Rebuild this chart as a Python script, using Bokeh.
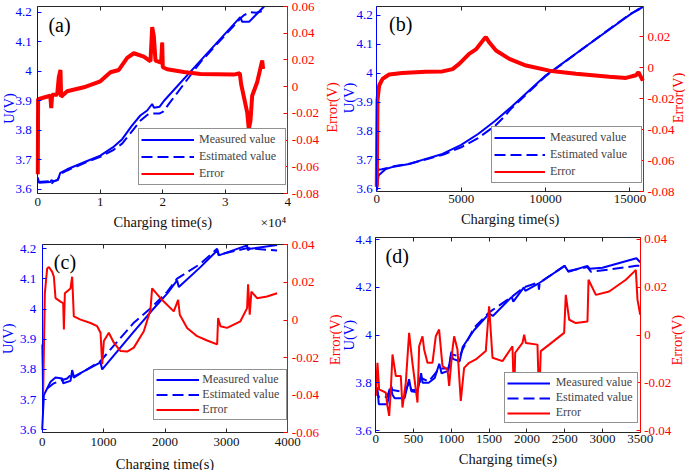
import math

from bokeh.plotting import figure
from bokeh.models import Range1d, LinearAxis, FixedTicker, Label, Legend, LegendItem
from bokeh.layouts import row, column
from bokeh.embed import file_html
from bokeh.resources import INLINE

FONT = "Liberation Serif"
BLUE = "#0000ff"
RED = "#ff0000"
DARK = "#262626"

# ---- (a)  time in units of 1e4 s ----
a_t_meas = [0.0, 0.02, 0.2, 0.22, 0.25, 0.32, 0.36, 0.47, 0.8, 1.0, 1.2, 1.35, 1.5, 1.64, 1.75,
            1.83, 1.86, 1.95, 2.02, 2.6, 3.24, 3.27, 3.38, 3.62]
a_u_meas = [3.64, 3.622, 3.625, 3.632, 3.626, 3.632, 3.656, 3.668, 3.697, 3.714, 3.742, 3.77, 3.814,
            3.85, 3.867, 3.889, 3.876, 3.88, 3.9, 4.035, 4.183, 4.167, 4.167, 4.219]
a_t_est = [0.0, 0.2, 0.22, 0.25, 0.32, 0.36, 0.47, 0.8, 1.0, 1.2, 1.35, 1.5, 1.64, 1.75, 1.8, 1.95,
           2.0, 2.1, 2.6, 3.24, 3.3, 3.4, 3.5, 3.62]
a_u_est = [3.625, 3.628, 3.618, 3.628, 3.632, 3.652, 3.664, 3.694, 3.71, 3.732, 3.755, 3.795, 3.832,
           3.852, 3.857, 3.857, 3.862, 3.89, 4.03, 4.178, 4.19, 4.2, 4.198, 4.205]
a_t_err = [0.0, 0.005, 0.07, 0.2, 0.215, 0.23, 0.31, 0.336, 0.363, 0.373, 0.47, 0.736, 1.0, 1.163,
           1.296, 1.43, 1.536, 1.696, 1.803, 1.83, 1.856, 1.883, 1.973, 1.99, 2.0, 2.07, 2.336, 2.6,
           3.136, 3.232, 3.253, 3.35, 3.376, 3.403, 3.43, 3.51, 3.59, 3.605]
a_err = [-0.0655, -0.0093, -0.0085, -0.0068, -0.016, -0.006, -0.006, 0.007, 0.0125, -0.0075, -0.0035,
         -0.0005, 0.004, 0.0108, 0.0125, 0.0215, 0.025, 0.0225, 0.019, 0.0445, 0.038, 0.0195, 0.018,
         0.033, 0.0145, 0.013, 0.011, 0.0095, 0.009, 0.01, 0.002, -0.0193, -0.0318, -0.0255, -0.0068,
         0.0033, 0.0195, 0.0133]

# ---- (b) ----
b_t_meas = [0, 20, 100, 530, 1000, 1920, 2900, 3890, 5000, 6000, 7000, 8000, 10000, 12500, 15000,
            15500, 15800]
b_u_meas = [3.595, 3.606, 3.646, 3.669, 3.677, 3.686, 3.704, 3.721, 3.752, 3.79, 3.835, 3.885, 3.992,
            4.098, 4.203, 4.222, 4.23]
b_t_est = [0, 300, 1000, 2000, 3000, 4000, 5000, 6000, 7000, 7500, 8000, 10000, 12500, 15000, 15800]
b_u_est = [3.665, 3.668, 3.678, 3.688, 3.703, 3.72, 3.744, 3.776, 3.818, 3.847, 3.88, 3.99, 4.098,
           4.205, 4.228]
b_t_err = [0, 40, 140, 340, 730, 1500, 2900, 3890, 4490, 4880, 5470, 5870, 6360, 6460, 6660, 7060,
           7850, 8840, 10220, 11800, 13770, 14760, 15360, 15500, 15760]
b_err = [-0.077, -0.021, -0.0116, -0.0073, -0.0045, -0.0035, -0.0027, -0.0025, -0.001, 0.0024, 0.0088,
         0.0117, 0.0185, 0.0196, 0.0163, 0.011, 0.0056, 0.0013, -0.002, -0.004, -0.006, -0.0067,
         -0.005, -0.003, -0.0084]

# ---- (c) ----
c_t_meas = [0, 27, 136, 217, 326, 342, 461, 488, 515, 950, 977, 1492, 1790, 2035, 2197, 2225, 2577,
            2849, 2876, 3337, 3348, 3391, 3825]
c_u_meas = [3.6, 3.715, 3.759, 3.773, 3.77, 3.754, 3.762, 3.798, 3.776, 3.823, 3.80, 3.925, 3.996,
            4.051, 4.095, 4.073, 4.139, 4.194, 4.178, 4.211, 4.195, 4.2, 4.212]
c_t_est = [81, 190, 326, 407, 488, 515, 950, 1492, 1790, 2035, 2197, 2577, 2849, 2876, 3337, 3825]
c_u_est = [3.737, 3.754, 3.765, 3.77, 3.787, 3.773, 3.828, 3.955, 4.007, 4.057, 4.101, 4.15, 4.2,
           4.18, 4.202, 4.194]
c_t_err = [0, 16, 43, 81, 109, 163, 190, 217, 298, 342, 353, 369, 461, 488, 515, 624, 787, 895, 950,
           977, 1004, 1085, 1167, 1275, 1384, 1492, 1655, 1763, 1790, 1926, 2143, 2214, 2241, 2360,
           2523, 2686, 2849, 2865, 2903, 3011, 3228, 3337, 3353, 3380, 3407, 3500, 3662, 3825]
c_err = [-0.013, -0.0393, 0.0142, 0.0274, 0.0282, 0.0256, 0.023, 0.0116, 0.0098, 0.0089, -0.0051,
         0.0142, 0.0168, 0.023, 0.0019, 0.0002, -0.0016, -0.0033, -0.0068, -0.0235, -0.0112, -0.0068,
         -0.0121, -0.0165, -0.0168, -0.0147, -0.006, 0.0054, 0.0168, 0.0116, 0.0046, 0.0107, 0.0028,
         -0.0042, -0.0086, -0.0109, -0.013, 0.001, -0.0033, -0.0042, -0.0007, 0.0063, 0.019, 0.0028,
         0.0151, 0.0116, 0.0125, 0.0142]

# ---- (d) ----
d_t_meas = [0, 20, 40, 150, 200, 220, 250, 380, 440, 470, 550, 600, 620, 700, 780, 840, 870, 960,
            1000, 1020, 1110, 1150, 1300, 1500, 1550, 1800, 1820, 1960, 1980, 2150, 2500, 2550, 2800,
            2830, 3000, 3450, 3500]
d_u_meas = [3.77, 3.78, 3.71, 3.71, 3.78, 3.75, 3.735, 3.735, 3.815, 3.765, 3.76, 3.84, 3.80, 3.80,
            3.82, 3.88, 3.84, 3.85, 3.93, 3.90, 3.89, 3.95, 4.02, 4.09, 4.08, 4.16, 4.14, 4.2, 4.185,
            4.215, 4.29, 4.265, 4.29, 4.278, 4.282, 4.322, 4.305]
d_t_est = [0, 40, 150, 200, 220, 380, 440, 470, 550, 600, 700, 840, 960, 1000, 1110, 1150, 1300,
           1500, 1800, 1960, 2150, 2160, 2170, 2500, 2550, 2800, 2850, 3450, 3500]
d_u_est = [3.78, 3.74, 3.74, 3.79, 3.77, 3.76, 3.80, 3.77, 3.77, 3.82, 3.805, 3.86, 3.86, 3.92, 3.91,
           3.94, 4.03, 4.095, 4.16, 4.2, 4.22, 4.19, 4.22, 4.29, 4.268, 4.285, 4.265, 4.29, 4.29]
d_t_err = [0, 22, 44, 132, 154, 177, 199, 221, 265, 331, 353, 397, 441, 485, 552, 574, 618, 640, 684,
           750, 794, 838, 883, 949, 971, 1015, 1037, 1081, 1125, 1169, 1236, 1324, 1456, 1500, 1545,
           1677, 1809, 1831, 1845, 1942, 1964, 1986, 2140, 2162, 2184, 2295, 2493, 2515, 2560, 2648,
           2802, 2816, 2913, 3089, 3310, 3420, 3442, 3464, 3500]
d_err = [-0.0254, -0.0116, -0.0227, -0.0241, -0.0296, -0.0338, -0.0227, -0.0081, -0.0171, -0.0171,
         -0.0303, -0.0199, 0.0009, -0.0116, -0.0282, -0.0046, -0.0005, -0.006, -0.0116, -0.0116,
         -0.0005, 0.0023, -0.013, -0.0144, -0.0213, -0.006, -0.0005, -0.006, -0.0275, -0.0137,
         -0.0116, -0.0102, -0.0067, 0.012, -0.0095, -0.0109, -0.0047, -0.028, -0.0074, -0.0033,
         0.0002, -0.0033, -0.004, -0.028, -0.0067, -0.004, 0.0009, 0.0168, 0.0064, 0.005, 0.0057,
         0.0231, 0.0168, 0.0182, 0.0231, 0.0265, 0.0272, 0.0148, 0.0085]

# ---- ticks ----
a_x_ticks = [0, 1, 2, 3, 4]
a_x_labels = ["0", "1", "2", "3", "4"]
b_x_ticks = [0, 5000, 10000, 15000]
b_x_labels = ["0", "5000", "10000", "15000"]
c_x_ticks = [0, 1000, 2000, 3000, 4000]
c_x_labels = ["0", "1000", "2000", "3000", "4000"]
d_x_ticks = [0, 500, 1000, 1500, 2000, 2500, 3000, 3500]
d_x_labels = ["0", "500", "1000", "1500", "2000", "2500", "3000", "3500"]
u_ticks = [3.6, 3.7, 3.8, 3.9, 4.0, 4.1, 4.2]
u_labels = ["3.6", "3.7", "3.8", "3.9", "4", "4.1", "4.2"]
d_u_ticks = [3.6, 3.8, 4.0, 4.2, 4.4]
d_u_labels = ["3.6", "3.8", "4", "4.2", "4.4"]
a_e_ticks = [-0.08, -0.06, -0.04, -0.02, 0, 0.02, 0.04, 0.06]
a_e_labels = ["-0.08", "-0.06", "-0.04", "-0.02", "0", "0.02", "0.04", "0.06"]
b_e_ticks = [-0.08, -0.06, -0.04, -0.02, 0, 0.02]
b_e_labels = ["-0.08", "-0.06", "-0.04", "-0.02", "0", "0.02"]
c_e_ticks = [-0.06, -0.04, -0.02, 0, 0.02, 0.04]
c_e_labels = ["-0.06", "-0.04", "-0.02", "0", "0.02", "0.04"]
d_e_ticks = [-0.04, -0.02, 0, 0.02, 0.04]
d_e_labels = ["-0.04", "-0.02", "0", "0.02", "0.04"]

legend_labels = ["Measured value", "Estimated value", "Error"]
x_title = "Charging time(s)"
u_title = "U(V)"
e_title = "Error(V)"
x_scale_note = "×10⁴"


def widen(lo, hi, before, after, span):
    # range whose [lo, hi] part falls on the axes box, leaving margins in px
    k = (hi - lo) / span
    return Range1d(lo - before * k, hi + after * k)


def style_axis(ax, color, ticks, labels, standoff, text_color=None):
    ax.ticker = FixedTicker(ticks=ticks)
    ax.major_label_overrides = dict(zip(ticks, labels))
    ax.axis_line_color = color
    ax.major_tick_line_color = color
    ax.major_tick_in = 4
    ax.major_tick_out = 0
    ax.minor_tick_line_color = None
    ax.major_label_text_color = text_color or color
    ax.major_label_text_font = FONT
    ax.major_label_text_font_size = "13px"
    ax.major_label_standoff = standoff


def title_label(p, text, x, y, color, angle=0.0, align="center", size="14.5px"):
    p.add_layout(Label(x=x, y=y, x_units="screen", y_units="screen", text=text, angle=angle,
                       text_font=FONT, text_font_size=size, text_color=color,
                       text_align=align, text_baseline="middle"))


def panel(tag, tm, um, te, ue, terr, err, xr, ur, er, xt, xl, ut, ul, et, el,
          w, h, box, tag_xy, titles, standoffs, leg):
    left, right, top, bottom = box
    fw = w - left - right
    fh = h - top - bottom
    p = figure(width=w, height=h,
               x_range=widen(xr[0], xr[1], left, right, fw),
               y_range=widen(ur[0], ur[1], bottom, top, fh),
               output_backend="svg", toolbar_location=None,
               min_border_left=0, min_border_right=0, min_border_top=0, min_border_bottom=0)
    p.extra_y_ranges = {"err": widen(er[0], er[1], bottom, top, fh)}
    p.background_fill_color = "white"
    p.border_fill_color = "white"
    p.outline_line_color = None
    p.xgrid.visible = False
    p.ygrid.visible = False

    bx = p.xaxis[0]
    style_axis(bx, DARK, xt, xl, standoffs[0], text_color="#111111")
    bx.fixed_location = ur[0]
    bx.bounds = xr

    ly = p.yaxis[0]
    style_axis(ly, BLUE, ut, ul, standoffs[1])
    ly.fixed_location = xr[0]
    ly.bounds = ur

    ry = LinearAxis(y_range_name="err", fixed_location=xr[1], bounds=er)
    style_axis(ry, RED, et, el, 4)
    p.add_layout(ry, "right")

    tx = LinearAxis(fixed_location=ur[1], bounds=xr)
    style_axis(tx, DARK, xt, [""] * len(xt), 0)
    p.add_layout(tx, "above")

    r_m = p.line(tm, um, color=BLUE, line_width=2)
    r_e = p.line(te, ue, color=BLUE, line_width=2, line_dash="11 5")
    if leg["thick"]:
        p.line(terr, err, color=RED, line_width=4, y_range_name="err")
    r_err = p.line(terr, err, color=RED, line_width=2, y_range_name="err")

    legend = Legend(items=[LegendItem(label=legend_labels[0], renderers=[r_m]),
                           LegendItem(label=legend_labels[1], renderers=[r_e]),
                           LegendItem(label=legend_labels[2], renderers=[r_err])],
                    location=(left + leg["loc"][0], bottom + leg["loc"][1]),
                    margin=0, padding=leg["pad"], spacing=0,
                    glyph_width=leg["gw"], glyph_height=leg["lh"], label_height=leg["lh"],
                    label_width=leg["lw"], label_standoff=leg["ls"],
                    label_text_font=FONT, label_text_font_size="12px",
                    border_line_color=DARK, border_line_width=1,
                    background_fill_color="white", background_fill_alpha=1.0)
    p.add_layout(legend)

    p.add_layout(Label(x=tag_xy[0], y=tag_xy[1], text=tag, text_font=FONT,
                       text_font_size="20px", text_baseline="middle", text_color="black"))

    u_dx, u_y, e_dx, e_y, x_dy = titles
    title_label(p, u_title, left - u_dx, bottom + u_y, BLUE, angle=math.pi / 2)
    title_label(p, e_title, w - right + e_dx, bottom + e_y, RED, angle=math.pi / 2)
    title_label(p, x_title, left + fw / 2, bottom - x_dy, "#111111")
    return p


pa = panel("(a)", a_t_meas, a_u_meas, a_t_est, a_u_est, a_t_err, a_err,
           (0, 4), (3.586, 4.219), (-0.08, 0.06), a_x_ticks, a_x_labels, u_ticks, u_labels,
           a_e_ticks, a_e_labels, 342, 235, (37.3, 54.7, 6, 42), (0.17, 4.158),
           (29.3, 85, 43.7, 86, 28), (4, 6),
           dict(loc=(100.7, 8), pad=2, gw=53, lh=17, lw=84, ls=5, thick=True))
title_label(pa, x_scale_note, 260, 13, "#111111", align="left", size="13.5px")

pb = panel("(b)", b_t_meas, b_u_meas, b_t_est, b_u_est, b_t_err, b_err,
           (0, 15800), (3.591, 4.231), (-0.08, 0.0394), b_x_ticks, b_x_labels, u_ticks, u_labels,
           b_e_ticks, b_e_labels, 343, 229, (34.3, 42, 6, 38), (730, 4.169),
           (28.3, 93.5, 34.5, 93.5, 27), (3, 4),
           dict(loc=(114.7, 8), pad=2, gw=51, lh=17, lw=89, ls=5, thick=True))

pc = panel("(c)", c_t_meas, c_u_meas, c_t_est, c_u_est, c_t_err, c_err,
           (0, 4000), (3.59, 4.213), (-0.06, 0.04), c_x_ticks, c_x_labels, u_ticks, u_labels,
           c_e_ticks, c_e_labels, 342, 235, (41.7, 54.7, 9.3, 37.7), (190, 4.156),
           (34.2, 94, 46.7, 93, 30.7), (5, 6),
           dict(loc=(111.6, 12.3), pad=2, gw=43, lh=15, lw=82, ls=3, thick=False))

pd_ = panel("(d)", d_t_meas, d_u_meas, d_t_est, d_u_est, d_t_err, d_err,
            (0, 3500), (3.593, 4.41), (-0.0406, 0.0409), d_x_ticks, d_x_labels, d_u_ticks,
            d_u_labels, d_e_ticks, d_e_labels, 343, 241, (33.3, 45.3, 7.7, 38.3), (128, 4.333),
            (27.3, 97, 36.3, 92, 26.3), (3, 4),
            dict(loc=(128.4, 8.4), pad=2, gw=43, lh=14, lw=79, ls=6, thick=False))

layout = row(column(pa, pc), column(pb, pd_))

open("out.html", "w").write(file_html(layout, INLINE))
